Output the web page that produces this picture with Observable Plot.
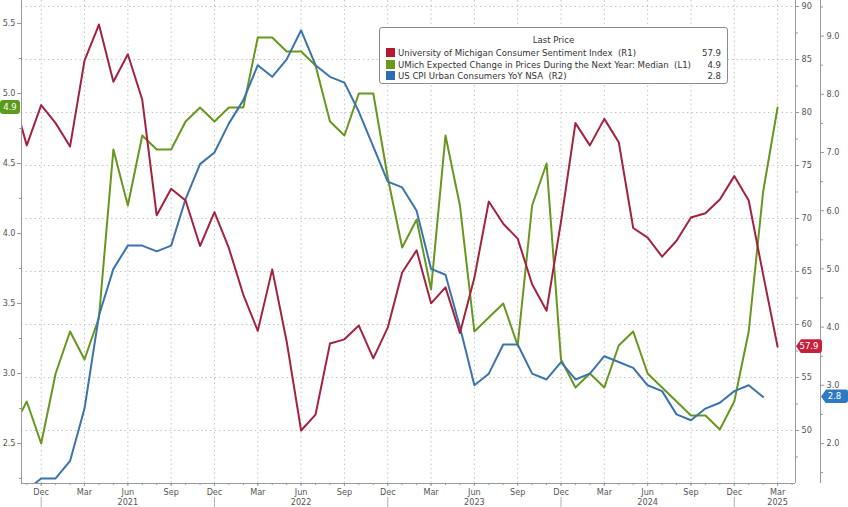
<!DOCTYPE html>
<html>
<head>
<meta charset="utf-8">
<script src="https://cdn.jsdelivr.net/npm/d3@7"></script>
<script src="https://cdn.jsdelivr.net/npm/@observablehq/plot@0.6"></script>
<style>
  html, body { margin: 0; padding: 0; background: #fff; }
  #wrap { position: relative; width: 848px; height: 507px; overflow: hidden; font-family: "DejaVu Sans Condensed", "Liberation Sans", sans-serif; }
  #wrap svg { overflow: visible; }
  .legend { position: absolute; left: 379px; top: 27px; width: 349px; height: 57px; border: 1px solid #8c8c8c; border-radius: 3px; background: #fff; font-size: 9.5px; color: #333; box-sizing: border-box; }
  .legend .title { position: absolute; left: 0; right: 0; top: 6px; text-align: center; }
  .legend .row { position: absolute; left: 6px; right: 6px; height: 11px; line-height: 11px; }
  .legend .sw { position: absolute; left: 0; top: 1px; width: 9px; height: 9px; }
  .legend .lab { position: absolute; left: 12px; white-space: pre; }
  .legend .val { position: absolute; right: 0; }
  .tag { position: absolute; height: 14px; line-height: 14px; font-size: 9.5px; color: #fff; text-align: center; }
</style>
</head>
<body>
<div id="wrap"></div>
<script>
// ---------------- data ----------------
const months = [
  "2020-10","2020-11","2020-12",
  "2021-01","2021-02","2021-03","2021-04","2021-05","2021-06","2021-07","2021-08","2021-09","2021-10","2021-11","2021-12",
  "2022-01","2022-02","2022-03","2022-04","2022-05","2022-06","2022-07","2022-08","2022-09","2022-10","2022-11","2022-12",
  "2023-01","2023-02","2023-03","2023-04","2023-05","2023-06","2023-07","2023-08","2023-09","2023-10","2023-11","2023-12",
  "2024-01","2024-02","2024-03","2024-04","2024-05","2024-06","2024-07","2024-08","2024-09","2024-10","2024-11","2024-12",
  "2025-01","2025-02","2025-03"
];
// University of Michigan Consumer Sentiment Index (R1)
const sentiment = [
  81.8, 76.9, 80.7,
  79.0, 76.8, 84.9, 88.3, 82.9, 85.5, 81.2, 70.3, 72.8, 71.7, 67.4, 70.6,
  67.2, 62.8, 59.4, 65.2, 58.4, 50.0, 51.5, 58.2, 58.6, 59.9, 56.8, 59.7,
  64.9, 67.0, 62.0, 63.5, 59.2, 64.4, 71.6, 69.5, 68.1, 63.8, 61.3, 69.7,
  79.0, 76.9, 79.4, 77.2, 69.1, 68.2, 66.4, 67.9, 70.1, 70.5, 71.8, 74.0,
  71.7, 64.7, 57.9
];
// UMich Expected Change in Prices During the Next Year: Median (L1)
const expectations = [
  2.6, 2.8, 2.5,
  3.0, 3.3, 3.1, 3.4, 4.6, 4.2, 4.7, 4.6, 4.6, 4.8, 4.9, 4.8,
  4.9, 4.9, 5.4, 5.4, 5.3, 5.3, 5.2, 4.8, 4.7, 5.0, 5.0, 4.4,
  3.9, 4.1, 3.6, 4.7, 4.2, 3.3, 3.4, 3.5, 3.2, 4.2, 4.5, 3.1,
  2.9, 3.0, 2.9, 3.2, 3.3, 3.0, 2.9, 2.8, 2.7, 2.7, 2.6, 2.8,
  3.3, 4.3, 4.9
];
// US CPI Urban Consumers YoY NSA (R2)
const cpi = [
  1.2, 1.2, 1.4,
  1.4, 1.7, 2.6, 4.2, 5.0, 5.4, 5.4, 5.3, 5.4, 6.2, 6.8, 7.0,
  7.5, 7.9, 8.5, 8.3, 8.6, 9.1, 8.5, 8.3, 8.2, 7.7, 7.1, 6.5,
  6.4, 6.0, 5.0, 4.9, 4.0, 3.0, 3.2, 3.7, 3.7, 3.2, 3.1, 3.4,
  3.1, 3.2, 3.5, 3.4, 3.3, 3.0, 2.9, 2.5, 2.4, 2.6, 2.7, 2.9,
  3.0, 2.8, null
];
const seriesNames = [
  "University of Michigan Consumer Sentiment Index  (R1)",
  "UMich Expected Change in Prices During the Next Year: Median  (L1)",
  "US CPI Urban Consumers YoY NSA  (R2)"
];
const lastValues = ["57.9", "4.9", "2.8"];
const monthTickLabels = ["Dec", "Mar", "Jun", "Sep"];
const yearLabels = [
  {month: "2021-06", label: "2021"},
  {month: "2022-06", label: "2022"},
  {month: "2023-06", label: "2023"},
  {month: "2024-06", label: "2024"},
  {month: "2025-03", label: "2025"}
];
const leftTicks = [2.5, 3.0, 3.5, 4.0, 4.5, 5.0, 5.5];
const r1Ticks = [50, 55, 60, 65, 70, 75, 80, 85, 90];
const r2Ticks = [2.0, 3.0, 4.0, 5.0, 6.0, 7.0, 8.0, 9.0];

// ---------------- scales / helpers ----------------
const colors = {sent: "#a3223f", exp: "#66971f", cpi: "#3b73ab"};
const idx = m => { const [y, mo] = m.split("-").map(Number); return (y - 2020) * 12 + (mo - 12); }; // months since Dec 2020
const L = [2.2143, 5.6643];      // left axis domain (L1)
const R1 = [45.0, 90.566];       // right axis 1 domain
const R2 = [1.3127, 9.6117];     // right axis 2 domain
const mapTo = (dom) => v => v == null ? null : L[0] + (v - dom[0]) / (dom[1] - dom[0]) * (L[1] - L[0]);
const mapFrom = (dom) => v => dom[0] + (v - L[0]) / (L[1] - L[0]) * (dom[1] - dom[0]);
const fromR1 = mapTo(R1), fromR2 = mapTo(R2), toR1 = mapFrom(R1), toR2 = mapFrom(R2);

const data = months.map((m, i) => ({
  k: idx(m),
  sent: fromR1(sentiment[i]),
  exp: expectations[i],
  cpi: fromR2(cpi[i])
}));

const quarterTicks = d3.range(0, 52, 3);
const decTicks = d3.range(0, 52, 12);
const monthTicks = d3.range(-1, 53);
const years = yearLabels.map(d => ({k: idx(d.month), label: d.label}));

const grid = "#c4c4c4";
const axisCol = "#9a9a9a";
const textCol = "#555";
const font = "DejaVu Sans Condensed, Liberation Sans, sans-serif";

const chart = Plot.plot({
  width: 848,
  height: 507,
  marginLeft: 21,
  marginRight: 53,
  marginTop: 0,
  marginBottom: 24,
  style: {fontFamily: font, fontSize: "9px", color: textCol, background: "#fff"},
  x: {type: "linear", domain: [-1.364, 52.24], label: null},
  y: {type: "linear", domain: L, label: null},
  marks: [
    // gridlines
    Plot.ruleY(r1Ticks.map(fromR1), {stroke: grid, strokeDasharray: "1.5,3", strokeWidth: 1}),
    Plot.ruleX(quarterTicks, {stroke: grid, strokeDasharray: "1.5,3", strokeWidth: 1}),
    // series
    Plot.line(data, {x: "k", y: "exp", stroke: colors.exp, strokeWidth: 2, clip: true}),
    Plot.line(data, {x: "k", y: "cpi", stroke: colors.cpi, strokeWidth: 2, clip: true}),
    Plot.line(data, {x: "k", y: "sent", stroke: colors.sent, strokeWidth: 2, clip: true}),
    // axis lines
    Plot.ruleX([-1.364], {stroke: axisCol}),
    Plot.ruleX([52.24], {stroke: axisCol}),
    Plot.ruleX([52.24], {stroke: axisCol, dx: 25}),
    Plot.ruleY([L[0]], {stroke: axisCol}),
    // left axis
    Plot.axisY({anchor: "left", label: null, ticks: leftTicks, tickFormat: d3.format(".1f"), tickSize: 4, tickPadding: 2, stroke: axisCol, fill: textCol}),
    Plot.axisY({anchor: "left", label: null, ticks: d3.range(2.25, 5.6, 0.25).filter(v => Math.abs(v * 2 - Math.round(v * 2)) > 0.01), tickFormat: () => "", tickSize: 2, stroke: axisCol}),
    // right axis R1
    Plot.axisY({anchor: "right", label: null, ticks: r1Ticks.map(fromR1), tickFormat: d => String(Math.round(toR1(d))), tickSize: 3, tickPadding: 3, stroke: axisCol, fill: textCol}),
    Plot.axisY({anchor: "right", label: null, ticks: d3.range(47.5, 90, 5).map(fromR1), tickFormat: () => "", tickSize: 2, stroke: axisCol}),
    // right axis R2
    Plot.axisY({anchor: "right", label: null, ticks: r2Ticks.map(fromR2), tickFormat: d => toR2(d).toFixed(1), tickSize: 3, tickPadding: 3, dx: 25, stroke: axisCol, fill: textCol}),
    Plot.axisY({anchor: "right", label: null, ticks: d3.range(1.5, 9.6, 1).map(fromR2), tickFormat: () => "", tickSize: 2, dx: 25, stroke: axisCol}),
    // x axis
    Plot.axisX({label: null, ticks: monthTicks, tickFormat: () => "", tickSize: 2, stroke: axisCol}),
    Plot.axisX({label: null, ticks: quarterTicks, tickFormat: (d) => monthTickLabels[(Math.round(d) / 3) % 4], tickSize: 3, tickPadding: 2, stroke: axisCol, fill: textCol}),
    Plot.axisX({label: null, ticks: decTicks, tickFormat: () => "", tickSize: 10, dy: 14, stroke: "#b0b0b0"}),
    Plot.text(years, {x: "k", y: () => L[0], text: "label", dy: 19, lineAnchor: "middle", fill: textCol})
  ]
});

const wrap = document.getElementById("wrap");
wrap.appendChild(chart);

// legend
const legend = document.createElement("div");
legend.className = "legend";
legend.innerHTML = `<div class="title">Last Price</div>` +
  [0, 1, 2].map(i => {
    const sw = ["#b5182f", "#6a9a1a", "#2e6db4"][i];
    return `<div class="row" style="top:${19 + i * 11.5}px"><span class="sw" style="background:${sw}"></span><span class="lab">${seriesNames[i]}</span><span class="val">${lastValues[i]}</span></div>`;
  }).join("");
wrap.appendChild(legend);

// last-value tags placed with the plot's y scale
const ys = chart.scale("y");
function tag(text, bg, left, width, yv, arrow) {
  const d = document.createElement("div");
  d.className = "tag";
  d.textContent = text;
  d.style.background = bg;
  d.style.left = left + "px";
  d.style.width = width + "px";
  d.style.top = (ys.apply(yv) - 7) + "px";
  d.style.borderRadius = "3px";
  if (arrow) d.style.clipPath = "polygon(5px 0, 100% 0, 100% 100%, 5px 100%, 0 50%)";
  wrap.appendChild(d);
}
tag(lastValues[1], "#5c9a1c", 0, 20, expectations[expectations.length - 1], false);
tag(lastValues[0], "#c4213c", 796, 26, fromR1(sentiment[sentiment.length - 1]), true);
tag(lastValues[2], "#2f79c0", 821, 27, fromR2(2.8), true);
</script>
</body>
</html>
